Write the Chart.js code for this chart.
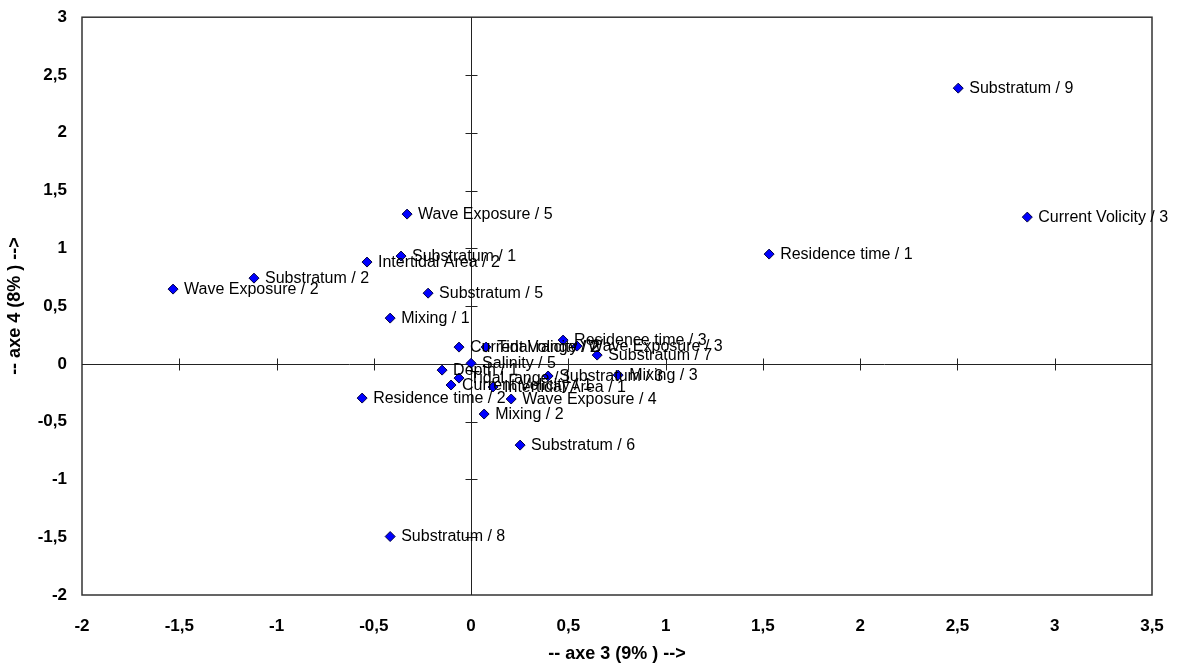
<!DOCTYPE html>
<html>
<head>
<meta charset="utf-8">
<script src="https://cdn.jsdelivr.net/npm/chart.js@4.4.1/dist/chart.umd.min.js"></script>
<style>
  html, body { margin: 0; padding: 0; background: #fff; }
  #wrap { width: 1188px; height: 665px; position: relative; }
</style>
</head>
<body>
<div id="wrap"><canvas id="c" width="1188" height="665"></canvas></div>
<script>
const pointLabels = [
  "Substratum / 9", "Current Volicity / 3", "Residence time / 1", "Wave Exposure / 5",
  "Substratum / 1", "Intertidal Area / 2", "Substratum / 2", "Wave Exposure / 2",
  "Substratum / 5", "Mixing / 1", "Current Volicity / 2", "Tidal range / 2",
  "Residence time / 3", "Wave Exposure / 3", "Substratum / 7", "Salinity / 5",
  "Depth / 1", "Tidal range / 1", "Current Volicity / 1", "Intertidal Area / 1",
  "Substratum / 3", "Mixing / 3", "Residence time / 2", "Wave Exposure / 4",
  "Mixing / 2", "Substratum / 6", "Substratum / 8"
];
const axe3 = [
  2.504, 2.859, 1.532, -0.329,
  -0.360, -0.535, -1.116, -1.532,
  -0.221, -0.416, -0.062, 0.077,
  0.473, 0.545, 0.648, 0.000,
  -0.149, -0.062, -0.103, 0.113,
  0.396, 0.756, -0.560, 0.206,
  0.067, 0.252, -0.416
];
const axe4 = [
  2.386, 1.270, 0.950, 1.296,
  0.933, 0.881, 0.742, 0.647,
  0.612, 0.396, 0.145, 0.145,
  0.206, 0.154, 0.076, 0.005,
  -0.054, -0.123, -0.183, -0.200,
  -0.105, -0.097, -0.296, -0.304,
  -0.434, -0.703, -1.494
];
const xTitle = "-- axe 3 (9% ) -->";
const yTitle = "-- axe 4 (8% ) -->";

const points = axe3.map((x, i) => ({ x: x, y: axe4[i] }));
const fmt = v => String(Math.round(v * 10) / 10).replace('.', ',');
const FONT = '"Liberation Sans", Arial, sans-serif';

const framePlugin = {
  id: 'frame',
  beforeDatasetsDraw(chart) {
    const { ctx, chartArea: a, scales } = chart;
    const xs = scales.x, ys = scales.y;
    ctx.save();
    ctx.strokeStyle = '#333';
    ctx.lineWidth = 1.5;
    ctx.strokeRect(a.left, a.top, a.right - a.left, a.bottom - a.top);
    const x0 = Math.round(xs.getPixelForValue(0)) + 0.5;
    const y0 = Math.round(ys.getPixelForValue(0)) + 0.5;
    ctx.strokeStyle = '#222';
    ctx.lineWidth = 1;
    ctx.beginPath();
    ctx.moveTo(a.left, y0); ctx.lineTo(a.right, y0);
    ctx.moveTo(x0, a.top); ctx.lineTo(x0, a.bottom);
    xs.ticks.forEach(t => {
      const px = Math.round(xs.getPixelForValue(t.value)) + 0.5;
      if (px <= a.left + 1 || px >= a.right - 1) return;
      ctx.moveTo(px, y0 - 6); ctx.lineTo(px, y0 + 6);
    });
    ys.ticks.forEach(t => {
      const py = Math.round(ys.getPixelForValue(t.value)) + 0.5;
      if (py <= a.top + 1 || py >= a.bottom - 1) return;
      ctx.moveTo(x0 - 6, py); ctx.lineTo(x0 + 6, py);
    });
    ctx.stroke();
    ctx.restore();
  },
  afterDatasetsDraw(chart) {
    const { ctx } = chart;
    const meta = chart.getDatasetMeta(0);
    ctx.save();
    ctx.font = '16px ' + FONT;
    ctx.fillStyle = '#000';
    ctx.textBaseline = 'middle';
    ctx.textAlign = 'left';
    meta.data.forEach((el, i) => {
      ctx.fillText(pointLabels[i], el.x + 11, el.y + 0.5);
    });
    ctx.restore();
  }
};

new Chart(document.getElementById('c'), {
  type: 'scatter',
  data: {
    datasets: [{
      data: points,
      pointStyle: 'rectRot',
      pointRadius: 5,
      pointHoverRadius: 5,
      backgroundColor: '#0000ff',
      borderColor: '#000040',
      borderWidth: 1
    }]
  },
  options: {
    responsive: false,
    animation: false,
    events: [],
    layout: { padding: { top: 11, right: 36, left: 0, bottom: 0 } },
    plugins: { legend: { display: false }, tooltip: { enabled: false } },
    scales: {
      x: {
        type: 'linear',
        min: -2, max: 3.5,
        grid: { display: false },
        border: { display: false },
        ticks: {
          stepSize: 0.5,
          callback: v => fmt(v),
          color: '#000',
          padding: 13,
          maxRotation: 0,
          font: { family: FONT, size: 17, weight: 'bold' }
        },
        title: {
          display: true,
          text: xTitle,
          color: '#000',
          padding: { top: 1, bottom: 0 },
          font: { family: FONT, size: 18, weight: 'bold' }
        },
        afterFit: s => { s.height = 70; }
      },
      y: {
        type: 'linear',
        min: -2, max: 3,
        grid: { display: false },
        border: { display: false },
        ticks: {
          stepSize: 0.5,
          callback: v => fmt(v),
          color: '#000',
          padding: 7,
          font: { family: FONT, size: 17, weight: 'bold' }
        },
        title: {
          display: true,
          text: yTitle,
          color: '#000',
          padding: { top: 4, bottom: 0 },
          font: { family: FONT, size: 18, weight: 'bold' }
        },
        afterFit: s => { s.width = 82; }
      }
    }
  },
  plugins: [framePlugin]
});
</script>
</body>
</html>
